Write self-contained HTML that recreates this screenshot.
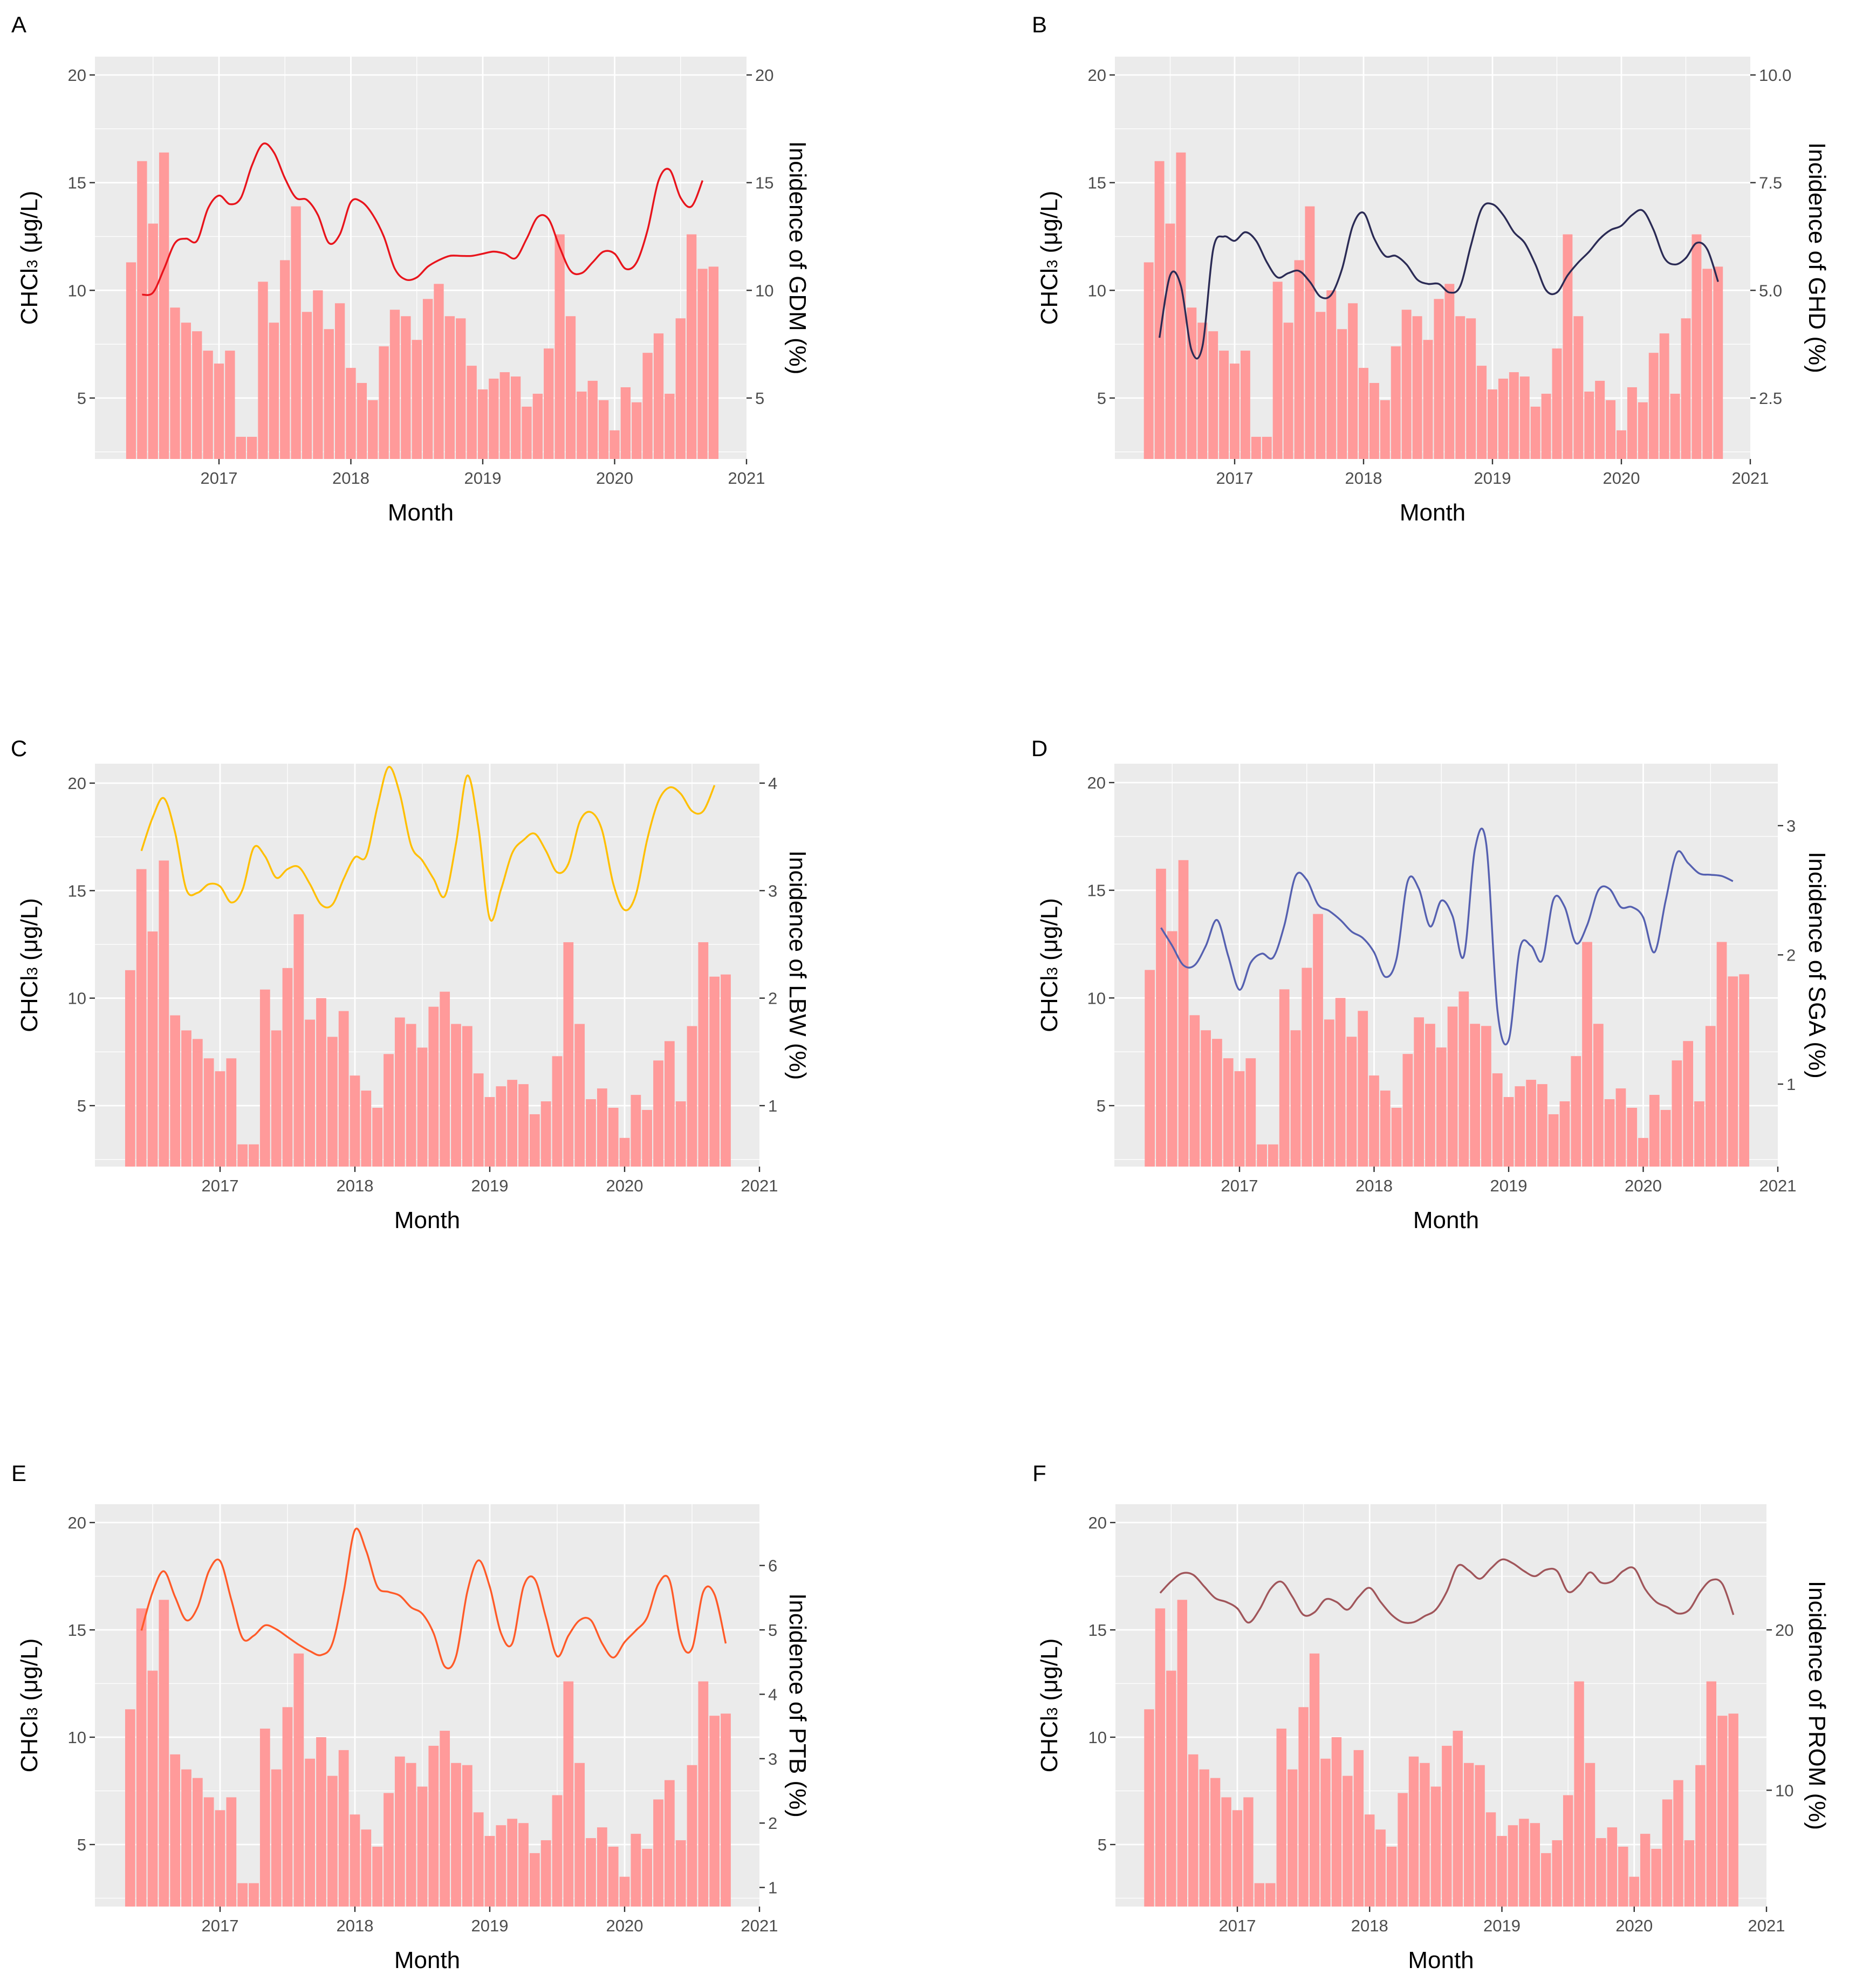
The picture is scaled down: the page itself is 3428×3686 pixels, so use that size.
<!DOCTYPE html>
<html><head><meta charset="utf-8"><style>
html,body{margin:0;padding:0;background:#fff}
svg{display:block}
text{font-family:"Liberation Sans",Arial,sans-serif}
</style></head><body>
<svg id="fig" width="3428" height="3686" viewBox="0 0 3428 3686" xmlns="http://www.w3.org/2000/svg"></svg>
<script>
// CHCl3 monthly concentration, May 2016 .. Oct 2020
const chcl3 = [11.3,16.0,13.1,16.4,9.2,8.5,8.1,7.2,6.6,7.2,3.2,3.2,10.4,8.5,11.4,13.9,9.0,10.0,8.2,9.4,6.4,5.7,4.9,7.4,9.1,8.8,7.7,9.6,10.3,8.8,8.7,6.5,5.4,5.9,6.2,6.0,4.6,5.2,7.3,12.6,8.8,5.3,5.8,4.9,3.5,5.5,4.8,7.1,8.0,5.2,8.7,12.6,11.0,11.1];
const startYear = 2016, startMonth = 4; // May (0-indexed)
const leftTicks = [5,10,15,20];
const yearTicks = [2017,2018,2019,2020,2021];
// incidence series (right-axis units), starting one month after first bar
const gdm = [9.8,9.9,11.0,12.2,12.4,12.3,13.8,14.4,14.0,14.3,15.8,16.8,16.4,15.2,14.3,14.2,13.5,12.2,12.6,14.1,14.1,13.5,12.5,11.0,10.5,10.6,11.1,11.4,11.6,11.6,11.6,11.7,11.8,11.7,11.5,12.4,13.4,13.3,12.0,10.9,10.8,11.3,11.8,11.7,11.0,11.3,12.8,15.1,15.6,14.3,13.9,15.1];
const ghd = [3.9,5.35,5.1,3.6,3.7,5.95,6.25,6.15,6.35,6.15,5.65,5.3,5.4,5.45,5.2,4.85,4.9,5.5,6.5,6.8,6.2,5.8,5.8,5.6,5.25,5.15,5.15,4.95,5.1,6.05,6.9,7.0,6.75,6.35,6.1,5.6,5.0,4.95,5.35,5.65,5.9,6.2,6.4,6.5,6.75,6.85,6.4,5.75,5.6,5.75,6.1,5.95,5.2];
const lbw = [3.37,3.68,3.86,3.54,3.01,2.98,3.06,3.04,2.89,3.01,3.4,3.32,3.12,3.2,3.22,3.06,2.87,2.87,3.11,3.31,3.32,3.78,4.15,3.9,3.42,3.28,3.11,2.95,3.44,4.07,3.58,2.74,3.01,3.35,3.47,3.53,3.37,3.17,3.25,3.64,3.73,3.56,3.06,2.82,2.96,3.47,3.83,3.96,3.9,3.74,3.74,3.98];
const sga = [2.21,2.07,1.92,1.92,2.07,2.27,1.99,1.73,1.94,2.01,1.98,2.23,2.61,2.58,2.39,2.34,2.27,2.18,2.13,2.02,1.83,1.97,2.57,2.51,2.22,2.42,2.3,1.99,2.82,2.86,1.57,1.34,2.05,2.07,1.96,2.43,2.37,2.09,2.23,2.5,2.51,2.37,2.37,2.29,2.02,2.42,2.79,2.71,2.63,2.62,2.61,2.57];
const ptb = [4.99,5.59,5.91,5.51,5.15,5.35,5.91,6.07,5.47,4.87,4.91,5.07,5.01,4.89,4.77,4.67,4.61,4.79,5.59,6.55,6.23,5.67,5.59,5.53,5.35,5.25,4.95,4.43,4.59,5.59,6.08,5.67,4.95,4.79,5.67,5.79,5.19,4.59,4.91,5.15,5.15,4.79,4.57,4.81,4.99,5.19,5.71,5.77,4.83,4.71,5.59,5.55,4.79];
const prom = [22.3,23.03,23.53,23.43,22.7,21.98,21.74,21.34,20.45,21.26,22.54,23.0,22.06,20.94,21.1,21.9,21.74,21.26,22.06,22.62,21.74,20.94,20.48,20.48,20.86,21.26,22.38,23.99,23.7,23.19,23.83,24.39,24.15,23.67,23.35,23.75,23.67,22.38,22.78,23.59,22.95,23.03,23.67,23.83,22.54,21.74,21.42,21.02,21.26,22.38,23.1,22.86,20.94];
const gdmTicks=[5,10,15,20], ghdTicks=[2.5,5,7.5,10], lbwTicks=[1,2,3,4], sgaTicks=[1,2,3], ptbTicks=[1,2,3,4,5,6], promTicks=[10,20];

const NS="http://www.w3.org/2000/svg";
const svg=document.getElementById('fig');
function mk(tag,attrs,parent){const e=document.createElementNS(NS,tag);for(const k in attrs)e.setAttribute(k,attrs[k]);(parent||svg).appendChild(e);return e;}

const panels=[
 {id:'a',letter:'A',lx:35,ly:60,x0:176,x1:1384,x17:406,x21:1384,y20:139,y5:738,y0:105,y1:851,series:gdm,ticks:gdmTicks,fmt:v=>String(v),toL:r=>r,color:'#e8141c',title:'Incidence of GDM (%)',rtx:1478,ltx:55},
 {id:'b',letter:'B',lx:1927,ly:60,x0:2067,x1:3245,x17:2289,x21:3245,y20:139,y5:738,y0:105,y1:851,series:ghd,ticks:ghdTicks,fmt:v=>v.toFixed(1),toL:r=>2*r,color:'#2b2b55',title:'Incidence of GHD (%)',rtx:3368,ltx:1946},
 {id:'c',letter:'C',lx:35,ly:1402,x0:176,x1:1408,x17:408,x21:1408,y20:1452,y5:2050,y0:1416,y1:2163,series:lbw,ticks:lbwTicks,fmt:v=>String(v),toL:r=>5*r,color:'#ffbf00',title:'Incidence of LBW (%)',rtx:1478,ltx:55},
 {id:'d',letter:'D',lx:1927,ly:1402,x0:2066,x1:3296,x17:2298,x21:3296,y20:1451,y5:2050,y0:1416,y1:2163,series:sga,ticks:sgaTicks,fmt:v=>String(v),toL:r=>6*r,color:'#5560b0',title:'Incidence of SGA (%)',rtx:3368,ltx:1946},
 {id:'e',letter:'E',lx:35,ly:2746,x0:176,x1:1408,x17:408,x21:1408,y20:2823,y5:3420,y0:2789,y1:3535,series:ptb,ticks:ptbTicks,fmt:v=>String(v),toL:r=>3*r,color:'#ff5a28',title:'Incidence of PTB (%)',rtx:1478,ltx:55},
 {id:'f',letter:'F',lx:1927,ly:2746,x0:2068,x1:3275,x17:2294,x21:3275,y20:2823,y5:3420,y0:2789,y1:3535,series:prom,ticks:promTicks,fmt:v=>String(v),toL:r=>0.747*r+0.06,color:'#a0555a',title:'Incidence of PROM (%)',rtx:3368,ltx:1946}
];

function smoothPath(pts){
  let d='M'+pts[0][0].toFixed(1)+','+pts[0][1].toFixed(1);
  for(let i=0;i<pts.length-1;i++){
    const p0=pts[Math.max(0,i-1)],p1=pts[i],p2=pts[i+1],p3=pts[Math.min(pts.length-1,i+2)];
    const c1x=p1[0]+(p2[0]-p0[0])/6,c1y=p1[1]+(p2[1]-p0[1])/6;
    const c2x=p2[0]-(p3[0]-p1[0])/6,c2y=p2[1]-(p3[1]-p1[1])/6;
    d+=' C'+c1x.toFixed(1)+','+c1y.toFixed(1)+' '+c2x.toFixed(1)+','+c2y.toFixed(1)+' '+p2[0].toFixed(1)+','+p2[1].toFixed(1);
  }
  return d;
}

panels.forEach(p=>{
  const g=mk('g',{});
  
  
  const yp=(p.y5-p.y20)/15;
  const ys=v=>p.y20+(20-v)*yp;
  const xs=t=>p.x17+(t-2017)*(p.x21-p.x17)/4;
  const lt=mk('text',{x:p.lx,y:p.ly,'font-size':42,'text-anchor':'middle',fill:'#000'},g);
  lt.textContent=p.letter;
  
  
  const bg=mk('rect',{x:p.x0,y:p.y0,width:p.x1-p.x0,height:p.y1-p.y0,fill:'#ebebeb'},g);
  
  
  [2.5,7.5,12.5,17.5].forEach(v=>{const y=ys(v);if(y>p.y0&&y<p.y1)mk('line',{x1:p.x0,x2:p.x1,y1:y,y2:y,stroke:'#fff','stroke-width':1.3},g);});
  [2016.5,2017.5,2018.5,2019.5,2020.5].forEach(t=>{const x=xs(t);if(x>p.x0&&x<p.x1)mk('line',{x1:x,x2:x,y1:p.y0,y2:p.y1,stroke:'#fff','stroke-width':1.3},g);});
  leftTicks.forEach(v=>{const y=ys(v);mk('line',{x1:p.x0,x2:p.x1,y1:y,y2:y,stroke:'#fff','stroke-width':2.8},g);});
  yearTicks.forEach(t=>{const x=xs(t);if(x<p.x1-1)mk('line',{x1:x,x2:x,y1:p.y0,y2:p.y1,stroke:'#fff','stroke-width':2.8},g);});
  const bw=(p.x21-p.x17)/48*0.9;
  chcl3.forEach((v,i)=>{
    const t=startYear+(startMonth+i)/12;
    const x=xs(t), y=Math.max(ys(v),p.y0);
    const r=mk('rect',{x:x-bw/2,y:y,width:bw,height:p.y1-y,fill:'#ff9a9a'},g);
    
    
  });
  const pts=p.series.map((r,i)=>[xs(startYear+(startMonth+1+i)/12),ys(p.toL(r))]);
  const ln=mk('path',{d:smoothPath(pts),fill:'none',stroke:p.color,'stroke-width':3.4,'stroke-linejoin':'round'},g);
  
  
  leftTicks.forEach(v=>{const y=ys(v);
    mk('line',{x1:p.x0-10,x2:p.x0,y1:y,y2:y,stroke:'#333','stroke-width':2.4},g);
    const t=mk('text',{x:p.x0-16,y:y+11,'font-size':31,'text-anchor':'end',fill:'#4d4d4d'},g);t.textContent=v;
    
    
  });
  p.ticks.forEach(v=>{const y=ys(p.toL(v));
    mk('line',{x1:p.x1,x2:p.x1+10,y1:y,y2:y,stroke:'#333','stroke-width':2.4},g);
    const t=mk('text',{x:p.x1+16,y:y+11,'font-size':31,'text-anchor':'start',fill:'#4d4d4d'},g);t.textContent=p.fmt(v);
    
    
  });
  yearTicks.forEach(yr=>{const x=xs(yr);
    mk('line',{x1:x,x2:x,y1:p.y1,y2:p.y1+10,stroke:'#333','stroke-width':2.4},g);
    const t=mk('text',{x:x,y:p.y1+46,'font-size':31,'text-anchor':'middle',fill:'#4d4d4d'},g);t.textContent=yr;
    
    
  });
  const xt=mk('text',{x:(p.x0+p.x1)/2,y:p.y1+114,'font-size':44,'text-anchor':'middle',fill:'#000'},g);xt.textContent='Month';
  
  
  const cy=(p.y0+p.y1)/2;
  const yt=mk('text',{x:0,y:0,'font-size':44,'text-anchor':'middle',fill:'#000',transform:'translate('+(p.ltx+14)+','+cy+') rotate(-90)'},g);
  yt.innerHTML='CHCl<tspan font-size="28">3</tspan>  (μg/L)';
  
  
  const rt=mk('text',{x:0,y:0,'font-size':44,'text-anchor':'middle',fill:'#000',transform:'translate('+(p.rtx-14)+','+cy+') rotate(90)'},g);
  rt.textContent=p.title;
  
  
});
</script>
</body></html>
